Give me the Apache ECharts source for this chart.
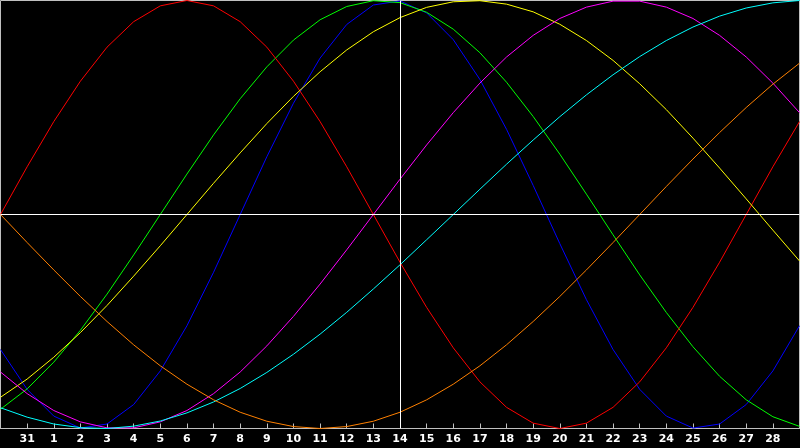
<!DOCTYPE html>
<html>
<head>
<meta charset="utf-8">
<script src="https://cdn.jsdelivr.net/npm/echarts@6/dist/echarts.min.js"></script>
<style>
html,body{margin:0;padding:0;background:#000;}
#chart{width:800px;height:448px;}
</style>
</head>
<body>
<div id="chart"></div>
<script>
// Day labels (30 Jan ... 1 Mar); first and last are not labelled
const dayLabels = ['30','31','1','2','3','4','5','6','7','8','9','10','11','12','13','14','15','16','17','18','19','20','21','22','23','24','25','26','27','28','1'];

// Cycle values in percent (-100 .. 100), one per day
const physical = [-63.1,-81.7,-94.2,-99.8,-97.9,-88.8,-73.1,-52.0,-27.0,0,27.0,52.0,73.1,88.8,97.9,99.8,94.2,81.7,63.1,39.8,13.6,-13.6,-39.8,-63.1,-81.7,-94.2,-99.8,-97.9,-88.8,-73.1,-52.0];
const emotional = [0,22.3,43.4,62.3,78.2,90.1,97.5,100,97.5,90.1,78.2,62.3,43.4,22.3,0,-22.3,-43.4,-62.3,-78.2,-90.1,-97.5,-100,-97.5,-90.1,-78.2,-62.3,-43.4,-22.3,0,22.3,43.4];
const intellectual = [-91.0,-81.5,-69.0,-54.1,-37.2,-18.9,0,18.9,37.2,54.1,69.0,81.5,91.0,97.2,99.9,99.0,94.5,86.6,75.6,61.8,45.8,28.2,9.5,-9.5,-28.2,-45.8,-61.8,-75.6,-86.6,-94.5,-99.0];
const intuitive = [-73.6,-83.7,-91.6,-96.9,-99.7,-99.7,-96.9,-91.6,-83.7,-73.6,-61.4,-47.6,-32.5,-16.5,0,16.5,32.5,47.6,61.4,73.6,83.7,91.6,96.9,99.7,99.7,96.9,91.6,83.7,73.6,61.4,47.6];
const aesthetic = [-85.4,-76.9,-66.7,-55.2,-42.5,-28.8,-14.6,0,14.6,28.8,42.5,55.2,66.7,76.9,85.4,92.0,96.8,99.4,99.9,98.3,94.7,88.9,81.3,72.0,61.1,49.0,35.7,21.7,7.3,-7.3,-21.7];
const awareness = [0,-13.1,-25.9,-38.3,-50.0,-60.9,-70.7,-79.3,-86.6,-92.4,-96.6,-99.1,-100,-99.1,-96.6,-92.4,-86.6,-79.3,-70.7,-60.9,-50.0,-38.3,-25.9,-13.1,0,13.1,25.9,38.3,50.0,60.9,70.7];
const spiritual = [-90.3,-94.7,-97.9,-99.6,-100,-98.9,-96.5,-92.7,-87.6,-81.3,-73.8,-65.3,-55.9,-45.7,-34.8,-23.5,-11.8,0,11.8,23.5,34.8,45.7,55.9,65.3,73.8,81.3,87.6,92.7,96.5,98.9,100];

const todayIndex = 15;

const chart = echarts.init(document.getElementById('chart'), null, {renderer:'canvas'});

function line(name, data, color, extra) {
  return Object.assign({
    name: name,
    type: 'line',
    data: data,
    symbol: 'none',
    smooth: false,
    lineStyle: {color: color, width: 1},
    itemStyle: {color: color},
    emphasis: {disabled: true},
    animation: false
  }, extra || {});
}

const showIdx = function (idx) { return idx > 0 && idx < dayLabels.length - 1; };

chart.setOption({
  backgroundColor: '#000000',
  animation: false,
  grid: {
    left: 0.5, right: 0.5, top: 0.5, bottom: 19.5,
    show: true, borderColor: '#c0c0c0', borderWidth: 1, backgroundColor: '#000000'
  },
  xAxis: {
    type: 'category',
    data: dayLabels,
    boundaryGap: false,
    axisLine: {show: true, onZero: false, lineStyle: {color: '#c0c0c0', width: 1}},
    axisTick: {show: true, inside: true, length: 5, interval: showIdx, lineStyle: {color: '#c0c0c0', width: 1}},
    axisLabel: {
      show: true, interval: showIdx, color: '#ffffff', fontWeight: 'bold',
      fontFamily: 'DejaVu Sans', fontSize: 11, margin: 5
    },
    splitLine: {show: false}
  },
  yAxis: {
    type: 'value', min: -100, max: 100, show: false,
    splitLine: {show: false}
  },
  series: [
    line('Physical', physical, '#0000ff'),
    line('Intellectual', intellectual, '#00ff00'),
    line('Emotional', emotional, '#ff0000'),
    line('Aesthetic', aesthetic, '#ffff00'),
    line('Intuitive', intuitive, '#ff00ff'),
    line('Spiritual', spiritual, '#00ffff'),
    line('Awareness', awareness, '#ff8000', {
      markLine: {
        silent: true,
        symbol: 'none',
        animation: false,
        label: {show: false},
        lineStyle: {color: '#ffffff', width: 1, type: 'solid'},
        emphasis: {disabled: true},
        data: [{yAxis: 0}, {xAxis: todayIndex}]
      }
    })
  ]
});
</script>
</body>
</html>
